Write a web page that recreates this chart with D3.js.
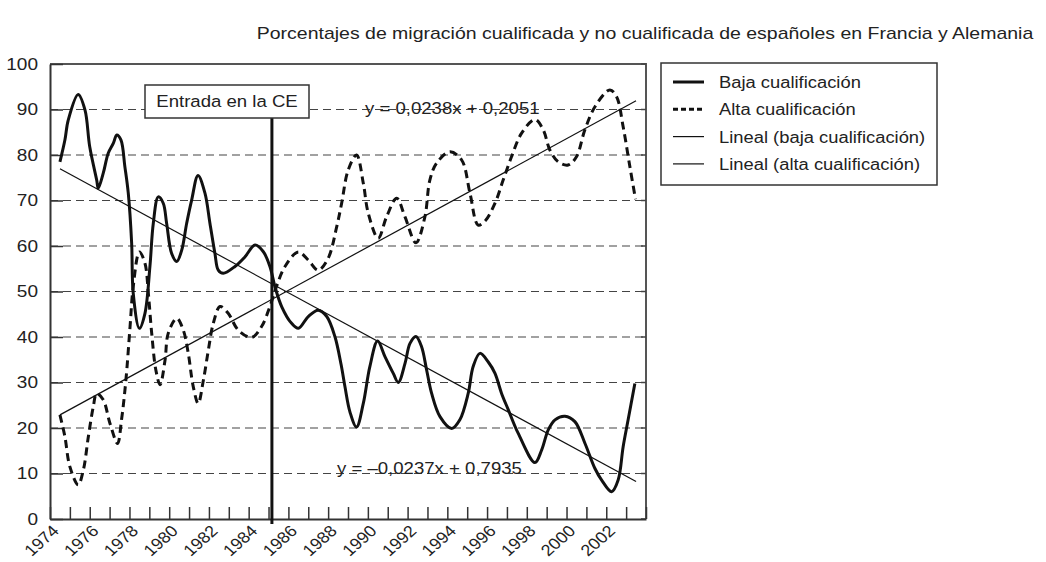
<!DOCTYPE html>
<html>
<head>
<meta charset="utf-8" />
<title>Migración cualificada y no cualificada</title>
<script src="https://cdn.jsdelivr.net/npm/d3@7"></script>
<style>
	body { margin: 0; background: #fff; }
	text { font-family: "Liberation Sans", Arial, Helvetica, sans-serif; fill: #222; }
</style>
</head>
<body>
<svg id="chart" width="1046" height="562"></svg>

<script>
/* data (x = fractional year, y = %) */
var yTicks     = [0, 10, 20, 30, 40, 50, 60, 70, 80, 90, 100];
var yearTicks  = d3.range(1974, 2005);
var yearLabels = [1974, 1976, 1978, 1980, 1982, 1984, 1986, 1988, 1990, 1992, 1994, 1996, 1998, 2000, 2002];

var bajaPoints = [
	[1974.5,78.5],[1974.75,83.3],[1974.92,87.7],[1975.42,93.3],[1975.76,89.9],[1976.0,81.8],
	[1976.35,74.5],[1976.43,72.7],[1976.68,76],[1976.93,80.4],[1977.19,82.6],[1977.36,84.4],
	[1977.57,83.3],[1977.77,77.4],[1977.94,71.6],[1978.11,60.6],[1978.19,49.6],[1978.5,41.9],
	[1978.78,45.2],[1979.03,55.5],[1979.2,65],[1979.45,70.8],[1979.7,69.4],[1979.87,65],
	[1980.12,58.4],[1980.38,56.6],[1980.63,59.1],[1980.88,65],[1981.13,70.1],[1981.45,75.5],
	[1981.8,71.6],[1982.05,65],[1982.3,58.4],[1982.47,54.7],[1982.72,54.0],[1983.31,55.5],
	[1983.81,57.6],[1984.32,60.2],[1984.73,58.8],[1985.07,55.5],[1985.32,51.1],[1985.66,46.7],
	[1986.16,43],[1986.5,41.9],[1987.0,44.5],[1987.5,45.9],[1987.93,44.5],[1988.34,40.1],
	[1988.65,34],[1988.85,29],[1989.1,23.5],[1989.43,20.2],[1989.77,25.4],[1990.1,33.5],
	[1990.49,39.1],[1990.86,35.7],[1991.28,32],[1991.53,30],[1991.87,34.2],[1992.12,38.6],
	[1992.42,40.1],[1992.7,37.9],[1992.96,32.7],[1993.21,27.6],[1993.63,22.5],[1994.22,19.9],
	[1994.63,21.8],[1995.05,27.6],[1995.3,33.5],[1995.64,36.4],[1996.06,34.5],[1996.4,32],
	[1996.73,27.6],[1997.07,24],[1997.57,18.8],[1998.41,12.4],[1998.75,15.2],[1999.08,19.6],
	[1999.42,21.8],[1999.92,22.6],[2000.42,21.4],[2000.93,16.6],[2001.43,11.1],[2001.76,8.6],
	[2002.27,6.0],[2002.6,8.6],[2002.85,15.9],[2003.1,21.8],[2003.44,29.8]
];

var altaPoints = [
	[1974.5,22.9],[1974.75,18.1],[1975.0,11.5],[1975.42,7.5],[1975.68,10.8],[1975.93,18.1],
	[1976.18,24.7],[1976.35,27.6],[1976.68,26.2],[1977.02,21],[1977.4,16.6],[1977.6,21.8],
	[1977.82,30.5],[1978.03,42.3],[1978.19,51.1],[1978.5,58.7],[1978.78,56.2],[1978.95,49.6],
	[1979.12,40.8],[1979.33,32.7],[1979.54,29.5],[1979.79,34.9],[1979.95,40.8],[1980.38,44.1],
	[1980.71,41.5],[1980.96,36.4],[1981.21,29.1],[1981.46,25.4],[1981.72,30.5],[1981.97,37.1],
	[1982.22,43],[1982.56,46.7],[1982.97,45.2],[1983.48,41.5],[1984.15,39.9],[1984.65,42.3],
	[1985.07,46.7],[1985.4,51.1],[1985.83,55.5],[1986.5,58.7],[1987.0,56.9],[1987.5,54.7],
	[1988.0,57.3],[1988.43,64.2],[1988.68,69.4],[1989.01,76.7],[1989.43,80],[1989.77,73.8],
	[1990.02,67.2],[1990.52,61.7],[1990.94,66.4],[1991.45,70.5],[1991.87,66.4],[1992.42,60.7],
	[1992.87,66.4],[1993.12,74.5],[1993.46,78.2],[1994.13,80.7],[1994.72,78.9],[1995.14,71.6],
	[1995.55,64.6],[1995.9,65.5],[1996.4,69.4],[1996.81,74.5],[1997.23,79.6],[1997.74,84.8],
	[1998.41,87.8],[1998.83,85.5],[1999.16,81.1],[1999.58,78.5],[2000.08,77.8],[2000.5,79.6],
	[2000.92,85.5],[2001.43,90.6],[2002.18,94.3],[2002.52,92.8],[2002.85,86.2],[2003.19,77.4],
	[2003.47,70.3]
];

// linear trends as printed on the chart (x = 1..30, y as fraction)
var bajaTrend = [-0.0237, 0.7935];
var altaTrend = [0.0238, 0.2051];
var trendX    = [1, 30];
var equations = ["y = 0,0238x + 0,2051", "y = \u20130,0237x + 0,7935"];

var ceYear  = 1985.17;
var ceLabel = "Entrada en la CE";

var legendLabels = ["Baja cualificación", "Alta cualificación", "Lineal (baja cualificación)", "Lineal (alta cualificación)"];

var title = "Porcentajes de migración cualificada y no cualificada de españoles en Francia y Alemania";

/* layout */
var SX = 1.12; // the printed figure is slightly stretched horizontally
var plot = { left: 50, right: 646, top: 64, bottom: 519 };

var svg = d3.select("#chart");

var x = d3.scaleLinear().domain([1974, 2004]).range([plot.left, plot.right]);
var y = d3.scaleLinear().domain([0, 100]).range([plot.bottom, plot.top]);

function stretchedText(g, px, py, str, size, anchor) {
	return g.append("text")
		.attr("transform", "translate(" + px + "," + py + ") scale(" + SX + ",1)")
		.attr("text-anchor", anchor || "start")
		.style("font-size", size + "px")
		.text(str);
}

// title
stretchedText(svg, 645, 39, title, 17.4, "middle");

// gridlines
svg.append("g").selectAll("line")
	.data(yTicks.filter(function(d){ return d > 0 && d < 100; }))
	.enter().append("line")
		.attr("x1", plot.left).attr("x2", plot.right)
		.attr("y1", function(d){ return y(d); })
		.attr("y2", function(d){ return y(d); })
		.attr("stroke", "#444")
		.attr("stroke-width", 1.2)
		.attr("stroke-dasharray", "8,5");

// frame (top / right)
svg.append("path")
	.attr("d", "M" + plot.left + "," + plot.top + "H" + plot.right + "V" + plot.bottom)
	.attr("fill", "none")
	.attr("stroke", "#555")
	.attr("stroke-width", 2);

// right side small ticks
svg.append("g").selectAll("line")
	.data(yTicks)
	.enter().append("line")
		.attr("x1", plot.right - 5).attr("x2", plot.right)
		.attr("y1", function(d){ return y(d); })
		.attr("y2", function(d){ return y(d); })
		.attr("stroke", "#444")
		.attr("stroke-width", 1.5);

// y axis
var yAxis = svg.append("g")
	.attr("transform", "translate(" + plot.left + ",0)")
	.call(d3.axisLeft(y).tickValues(yTicks).tickSize(-13).tickSizeOuter(0).tickPadding(12));
yAxis.select(".domain").attr("stroke", "#333").attr("stroke-width", 2);
yAxis.selectAll(".tick line").attr("stroke", "#333").attr("stroke-width", 1.5);
yAxis.selectAll(".tick text")
	.attr("x", -12 / SX)
	.attr("transform", "scale(" + SX + ",1)")
	.style("font-size", "17px")
	.style("font-family", '"Liberation Sans", Arial, sans-serif')
	.attr("fill", "#222");

// x axis
var xAxis = svg.append("g")
	.attr("transform", "translate(0," + plot.bottom + ")")
	.call(d3.axisBottom(x)
		.tickValues(yearTicks)
		.tickSize(-12)
		.tickSizeOuter(0)
		.tickFormat(function(d){ return yearLabels.indexOf(d) >= 0 ? d : ""; }));
xAxis.select(".domain").attr("stroke", "#333").attr("stroke-width", 2);
xAxis.selectAll(".tick line").attr("stroke", "#333").attr("stroke-width", 1.5);
xAxis.selectAll(".tick text")
	.attr("x", 0).attr("y", 0).attr("dy", ".35em")
	.attr("transform", "translate(5,9) scale(" + SX + ",1) rotate(-45)")
	.attr("text-anchor", "end")
	.style("font-size", "16px")
	.style("font-family", '"Liberation Sans", Arial, sans-serif')
	.attr("fill", "#222");

// trend lines
function trendLine(coef) {
	return trendX.map(function(i){ return [1973.5 + i, (coef[0] * i + coef[1]) * 100]; });
}
var straight = d3.line().x(function(d){ return x(d[0]); }).y(function(d){ return y(d[1]); });

svg.append("path").datum(trendLine(bajaTrend))
	.attr("d", straight).attr("fill", "none").attr("stroke", "#111").attr("stroke-width", 1.2);
svg.append("path").datum(trendLine(altaTrend))
	.attr("d", straight).attr("fill", "none").attr("stroke", "#111").attr("stroke-width", 1.2);

// data curves
var smooth = d3.line()
	.x(function(d){ return x(d[0]); })
	.y(function(d){ return y(d[1]); })
	.curve(d3.curveCatmullRom.alpha(0.5));

svg.append("path").datum(altaPoints)
	.attr("d", smooth)
	.attr("fill", "none")
	.attr("stroke", "#111")
	.attr("stroke-width", 3)
	.attr("stroke-dasharray", "8,5");

svg.append("path").datum(bajaPoints)
	.attr("d", smooth)
	.attr("fill", "none")
	.attr("stroke", "#111")
	.attr("stroke-width", 3)
	.attr("stroke-linejoin", "round");

// trend equations
stretchedText(svg, 365, 114, equations[0], 16.6);
stretchedText(svg, 337, 474, equations[1], 16.6);

// accession marker
svg.append("line")
	.attr("x1", x(ceYear)).attr("x2", x(ceYear))
	.attr("y1", 118).attr("y2", plot.bottom + 5)
	.attr("stroke", "#111")
	.attr("stroke-width", 3);

svg.append("rect")
	.attr("x", 145).attr("y", 85)
	.attr("width", 164).attr("height", 33)
	.attr("fill", "#fff")
	.attr("stroke", "#333")
	.attr("stroke-width", 1.5);
stretchedText(svg, 227, 107, ceLabel, 16.6, "middle");

// legend
var legend = svg.append("g");
legend.append("rect")
	.attr("x", 661).attr("y", 63)
	.attr("width", 276).attr("height", 122)
	.attr("fill", "#fff")
	.attr("stroke", "#333")
	.attr("stroke-width", 1.5);

var legendStyle = [
	{ w: 3,   dash: null },
	{ w: 3,   dash: "5,3" },
	{ w: 1.2, dash: null },
	{ w: 1.2, dash: null }
];

legendLabels.forEach(function(label, i) {
	var cy = 82 + i * 27.3;
	legend.append("line")
		.attr("x1", 673).attr("x2", 704)
		.attr("y1", cy).attr("y2", cy)
		.attr("stroke", "#111")
		.attr("stroke-width", legendStyle[i].w)
		.attr("stroke-dasharray", legendStyle[i].dash);
	stretchedText(legend, 719, cy + 6, label, 16.4);
});
</script>
</body>
</html>
